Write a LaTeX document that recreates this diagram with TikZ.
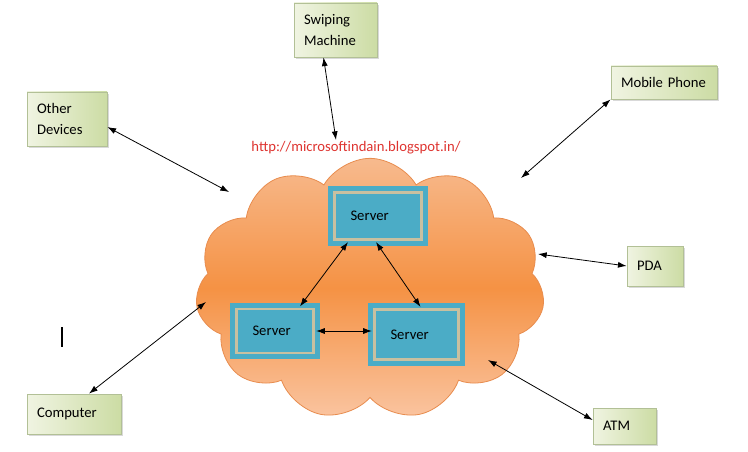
\documentclass[tikz,border=0pt]{standalone}
\usepackage{fontspec}
\setmainfont{Carlito}
\usetikzlibrary{positioning,calc,shapes.symbols,shadows,arrows.meta}

\definecolor{boxlight}{RGB}{240,244,226}
\definecolor{boxdark}{RGB}{204,220,164}
\definecolor{boxedge}{RGB}{178,192,150}
\definecolor{srvfill}{RGB}{75,172,198}
\definecolor{srvline}{RGB}{200,192,160}
\definecolor{cloudtop}{RGB}{247,186,142}
\definecolor{cloudmid}{RGB}{245,146,68}
\definecolor{cloudbot}{RGB}{250,196,160}
\definecolor{cloudedge}{RGB}{232,140,78}
\definecolor{urlred}{RGB}{222,52,48}

\begin{document}
\begin{tikzpicture}[x=0.75pt, y=-0.75pt,
    every node/.style={font=\fontsize{11}{16}\selectfont},
    device/.style={rectangle, draw=boxedge, line width=0.6pt, left color=boxlight, right color=boxdark,
      inner xsep=7.5pt, inner ysep=0pt, align=left,
      drop shadow={shadow xshift=1.8pt, shadow yshift=-1.8pt, opacity=0.3}},
    server/.style={rectangle, draw=srvfill, fill=srvfill, line width=3.9pt, double=srvline,
      double distance=1.8pt, inner xsep=12pt, inner ysep=0pt, align=left},
    link/.style={{Latex[length=6.5pt,width=4.5pt]}-{Latex[length=6.5pt,width=4.5pt]}, line width=0.6pt}]
  \useasboundingbox (0,0) rectangle (748,452);

  \node[cloud, cloud puffs=11, cloud puff arc=120, cloud ignores aspect,
    minimum width=262pt, minimum height=196pt,
    top color=cloudtop, bottom color=cloudbot, middle color=cloudmid,
    draw=cloudedge, line width=0.6pt] (cloud) at (370,289) {};
  \node[text=urlred] (url) at (356,148) {http://microsoftindain.blogspot.in/};

  \node[server, text width=41.25pt, minimum height=35.25pt] (srvtop) at (378,216) {Server};
  \node[server, text width=33.75pt, minimum height=33pt] (srvleft) at (275,331) {Server};
  \node[server, text width=39pt, minimum height=37.5pt] (srvright) at (416.5,334.5) {Server};

  \node[device, text width=47.25pt, minimum height=40.5pt] (swipe) at (335.5,30) {Swiping\\Machine};
  \node[device, text width=45pt, minimum height=40.5pt] (others) at (67,119) {Other\\Devices};
  \node[device, text width=64.5pt, minimum height=24.75pt] (mobile) at (664,82.5) {Mobile Phone};
  \node[device, text width=27pt, minimum height=30pt] (pda) at (655,266) {PDA};
  \node[device, text width=55.5pt, minimum height=30pt] (computer) at (74,414) {Computer};
  \node[device, text width=32.25pt, minimum height=27pt] (atm) at (624.5,426) {ATM};

  \coordinate (in-swipe) at (336,140);
  \coordinate (in-others) at (229,192);
  \coordinate (in-mobile) at (521,178);
  \coordinate (in-pda) at (538,254);
  \coordinate (in-computer) at (206,302);
  \coordinate (in-atm) at (488,360);

  \draw[link] ($(swipe.south)+(-12,0)$) -- (in-swipe);
  \draw[link] ($(others.east)+(0,8)$) -- (in-others);
  \draw[link] (mobile.south west) -- (in-mobile);
  \draw[link] (pda.west) -- (in-pda);
  \draw[link] ($(computer.north)+(15,0)$) -- (in-computer);
  \draw[link] ($(atm.west)+(0,-6)$) -- (in-atm);

  \draw[link] ($(srvtop.south)+(-30,0)$) -- ($(srvleft.north)+(25,0)$);
  \draw[link] ($(srvtop.south)+(-2,0)$) -- ($(srvright.north)+(4,0)$);
  \draw[link] (srvleft.east) -- (srvleft.east -| srvright.west);

  \draw[line width=1.5pt] (62,327) -- (62,347);
\end{tikzpicture}
\end{document}
